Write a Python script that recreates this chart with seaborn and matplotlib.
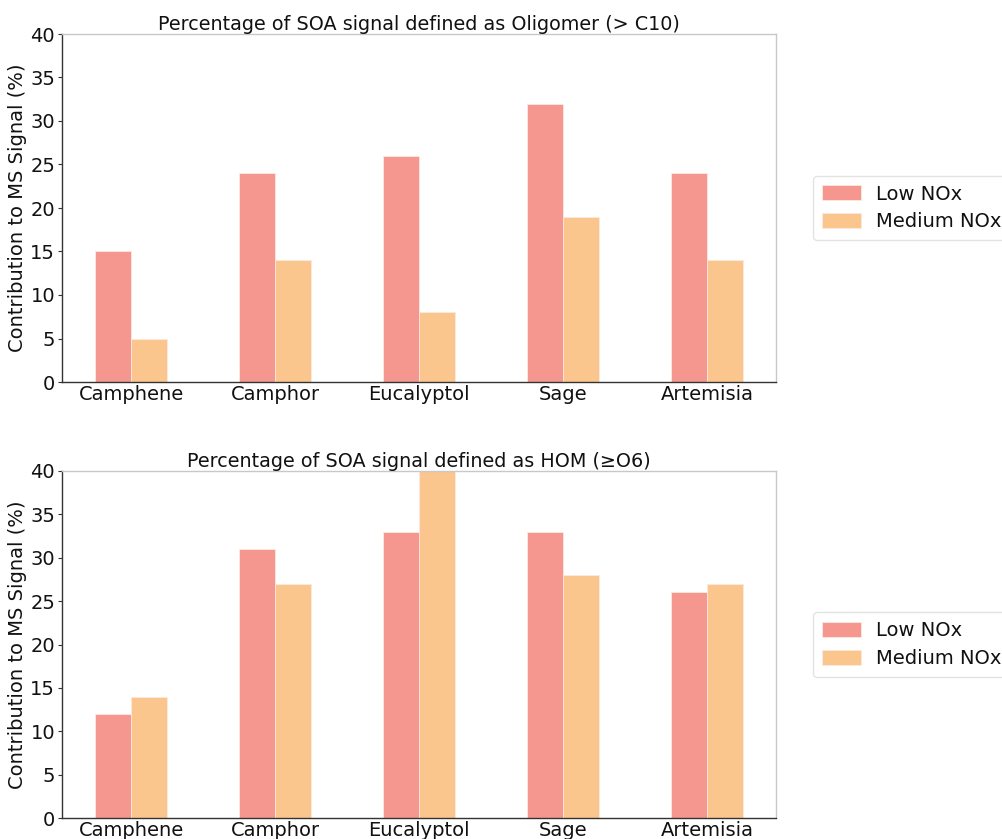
import matplotlib
matplotlib.use("Agg")
import matplotlib.pyplot as plt
import seaborn as sns
import pandas as pd

categories = ["Camphene", "Camphor", "Eucalyptol", "Sage", "Artemisia"]
series_names = ["Low NOx", "Medium NOx"]
oligomer_low = [15, 24, 26, 32, 24]
oligomer_medium = [5, 14, 8, 19, 14]
hom_low = [12, 31, 33, 33, 26]
hom_medium = [14, 27, 40, 28, 27]
titles = ["Percentage of SOA signal defined as Oligomer (> C10)",
          "Percentage of SOA signal defined as HOM (\u2265O6)"]
ylabel = "Contribution to MS Signal (%)"
yticks = [0, 5, 10, 15, 20, 25, 30, 35, 40]
colors = ["#f5978f", "#fac68d"]

sns.set_style("white")
plt.rcParams["font.family"] = ["DejaVu Sans"]
plt.rcParams["text.color"] = "#111111"
plt.rcParams["axes.labelcolor"] = "#111111"
plt.rcParams["xtick.color"] = "#111111"
plt.rcParams["ytick.color"] = "#111111"

fs = 14

fig = plt.figure(figsize=(10.03, 8.39), dpi=100)
ax1 = fig.add_axes([62/1003, 1-382/839, 714/1003, 348/839])
ax2 = fig.add_axes([62/1003, 1-818/839, 714/1003, 347/839])

def make_df(low, med):
    return pd.DataFrame({
        "category": categories * 2,
        "series": [series_names[0]] * len(categories) + [series_names[1]] * len(categories),
        "value": list(low) + list(med),
    })

for ax, (low, med), title in zip([ax1, ax2], [(oligomer_low, oligomer_medium), (hom_low, hom_medium)], titles):
    df = make_df(low, med)
    sns.barplot(data=df, x="category", y="value", hue="series", palette=colors,
                width=0.5, ax=ax, edgecolor="#fde8e0", linewidth=0.6, saturation=1)
    ax.set_xlim(-0.48, 4.48)
    ax.set_ylim(0, 40)
    ax.set_yticks(yticks)
    ax.set_xlabel("")
    ax.set_ylabel(ylabel, fontsize=fs, labelpad=2)
    ax.set_title(title, fontsize=13.8, pad=3)
    ax.tick_params(axis="both", labelsize=fs, length=3, color="#333333", pad=2)
    ax.tick_params(axis="x", length=0)
    ax.tick_params(left=True)
    for s in ["left", "bottom"]:
        ax.spines[s].set_color("#333333")
        ax.spines[s].set_linewidth(1.0)
    for s in ["top", "right"]:
        ax.spines[s].set_color("#c8c8c8")
        ax.spines[s].set_linewidth(1.0)
    leg = ax.legend(loc="center left", bbox_to_anchor=(1.052, 0.5), borderaxespad=0,
                    fontsize=fs, frameon=True, handlelength=2.0, handleheight=0.8,
                    handletextpad=0.8, borderpad=0.45, labelspacing=0.45)
    leg.get_frame().set_edgecolor("#dddddd")

fig.savefig("out.png", dpi=100)
